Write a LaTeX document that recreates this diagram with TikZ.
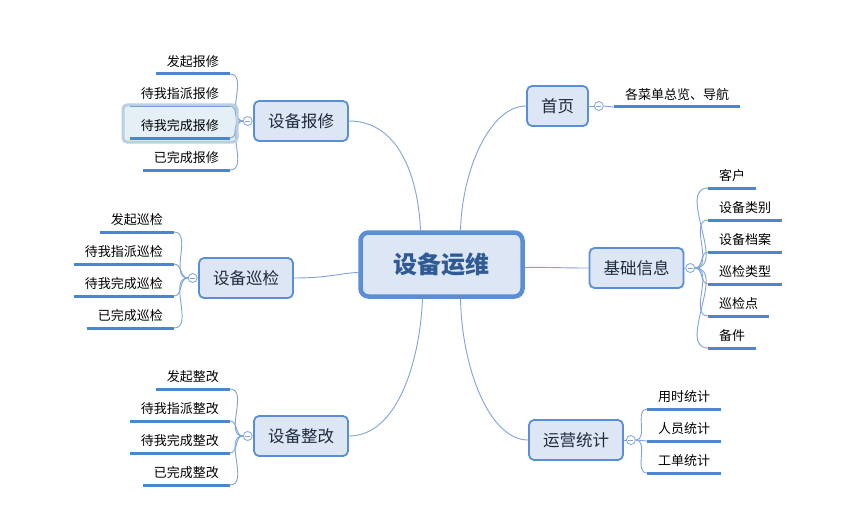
\documentclass[tikz,border=0pt]{standalone}
\usepackage{fontspec}
\setmainfont{Noto Sans CJK SC}
\usetikzlibrary{positioning,calc}

\definecolor{boxfill}{HTML}{DCE6F4}
\definecolor{boxline}{HTML}{5A8ED6}
\definecolor{linkcol}{HTML}{7DA4DA}
\definecolor{ulcol}{HTML}{4C86D0}
\definecolor{hlfill}{HTML}{E4F0F6}
\definecolor{hlline}{HTML}{B9CFE2}
\definecolor{roottext}{HTML}{2F5A93}
\definecolor{maintext}{HTML}{1E2B3C}

\begin{document}
\begin{tikzpicture}[x=1pt,y=-1pt,
    rootbox/.style={draw=boxline, fill=boxfill, line width=4.5pt, rounded corners=8pt,
        minimum width=162pt, minimum height=64pt, text=roottext,
        font=\bfseries\fontsize{24}{28}\selectfont},
    mainbox/.style={draw=boxline, fill=boxfill, line width=1.8pt, rounded corners=5pt,
        minimum height=40pt, inner xsep=14pt, text=maintext,
        font=\fontsize{16.5}{19}\selectfont},
    leaf/.style={inner xsep=11pt, inner ysep=6pt, font=\fontsize{13}{15}\selectfont},
    uline/.style={draw=ulcol, line width=3pt},
    link/.style={draw=linkcol, line width=0.9pt},
    fold/.style={circle, draw=linkcol, fill=white, minimum size=9pt, inner sep=0pt,
        line width=0.8pt,
        path picture={\draw[linkcol, line width=0.8pt]
            ([xshift=-2.5pt]path picture bounding box.center) --
            ([xshift=2.5pt]path picture bounding box.center);}},
]
    \useasboundingbox (0,0) rectangle (864,516);

    % Root
    \node[rootbox] (root) at (441.5,264.5) {设备运维};

    % Main topics
    \node[mainbox] (bx) at (301,121) {设备报修};
    \node[mainbox] (xj) at (246,278) {设备巡检};
    \node[mainbox] (zg) at (301,436) {设备整改};
    \node[mainbox] (sy) at (557.5,106) {首页};
    \node[mainbox] (jc) at (636.5,268) {基础信息};
    \node[mainbox] (yy) at (576,440) {运营统计};

    % Root links
    \draw[link] (bx.east) .. controls (398,121) and (418,175) .. ([xshift=-21pt]root.north);
    \draw[link] (sy.west) .. controls (490,106) and (462,170) .. ([xshift=19pt]root.north);
    \draw[link] (zg.east) .. controls (398,436) and (420,360) .. ([xshift=-19pt]root.south);
    \draw[link] (yy.west) .. controls (490,440) and (462,370) .. ([xshift=19pt]root.south);
    \draw[link] (xj.east) .. controls (330,278) and (340,273) .. ([yshift=-8pt]root.west);
    \draw[link] (jc.west) .. controls (560,268) and (545,267) .. ([yshift=-3pt]root.east);

    % Fold markers
    \node[fold, left=0.5pt of bx] (bxf) {};
    \node[fold, left=0.5pt of xj] (xjf) {};
    \node[fold, left=0.5pt of zg] (zgf) {};
    \node[fold, right=5pt of sy] (syf) {};
    \node[fold, right=1pt of jc] (jcf) {};
    \node[fold, right=2pt of yy] (yyf) {};
    \draw[link] (sy.east) -- (syf);
    \draw[link] (jc.east) -- (jcf);
    \draw[link] (yy.east) -- (yyf);

    % Highlight
    \fill[hlfill, rounded corners=4pt] (123,105) rectangle (237,142);

    % Left leaves
    \foreach \t [count=\i] in {发起报修,待我指派报修,待我完成报修,已完成报修} {
        \node[leaf, anchor=south east] (bx\i) at (230,42+32*\i) {\t};
        \draw[uline] (bx\i.south west) -- (bx\i.south east);
        \draw[link] (bxf.west) to[out=180, in=0] (bx\i.south east);
    }
    \draw[hlline, line width=3pt, rounded corners=4pt] (123,105) rectangle (237,142);
    \foreach \t [count=\i] in {发起巡检,待我指派巡检,待我完成巡检,已完成巡检} {
        \node[leaf, anchor=south east] (xj\i) at (174,200+32*\i) {\t};
        \draw[uline] (xj\i.south west) -- (xj\i.south east);
        \draw[link] (xjf.west) to[out=180, in=0] (xj\i.south east);
    }
    \foreach \t [count=\i] in {发起整改,待我指派整改,待我完成整改,已完成整改} {
        \node[leaf, anchor=south east] (zg\i) at (230,357+32*\i) {\t};
        \draw[uline] (zg\i.south west) -- (zg\i.south east);
        \draw[link] (zgf.west) to[out=180, in=0] (zg\i.south east);
    }

    % Right leaves
    \node[leaf, anchor=south west] (sy1) at (614,107) {各菜单总览、导航};
    \draw[uline] (sy1.south west) -- (sy1.south east);
    \draw[link] (syf.east) -- (sy1.south west);
    \foreach \t [count=\i] in {客户,设备类别,设备档案,巡检类型,巡检点,备件} {
        \node[leaf, anchor=south west] (jc\i) at (708,156+32*\i) {\t};
        \draw[uline] (jc\i.south west) -- (jc\i.south east);
        \draw[link] (jcf.east) to[out=0, in=180] (jc\i.south west);
    }
    \foreach \t [count=\i] in {用时统计,人员统计,工单统计} {
        \node[leaf, anchor=south west] (yy\i) at (647,377+32*\i) {\t};
        \draw[uline] (yy\i.south west) -- (yy\i.south east);
        \draw[link] (yyf.east) to[out=0, in=180] (yy\i.south west);
    }
\end{tikzpicture}
\end{document}
